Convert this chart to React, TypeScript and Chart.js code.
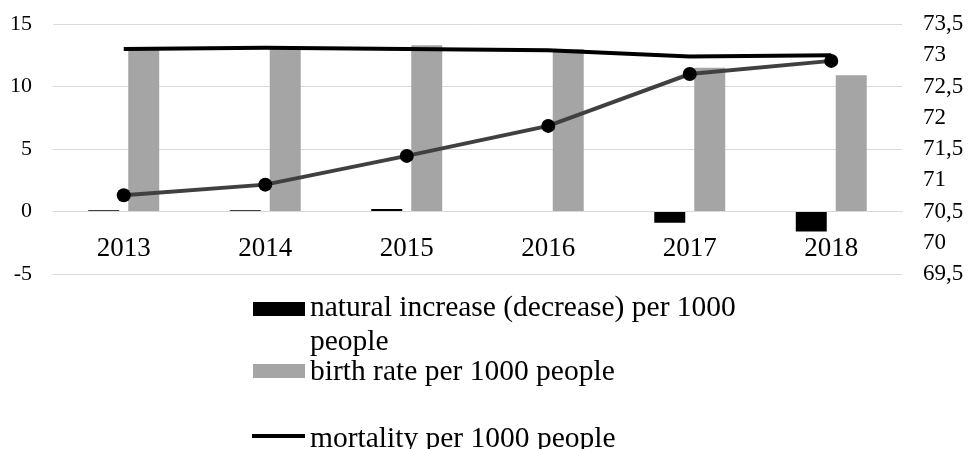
import React, { useEffect, useRef } from "react";
import { Chart, registerables } from "chart.js";

Chart.register(...registerables);

const years = ["2013", "2014", "2015", "2016", "2017", "2018"];
const naturalIncrease = [0.1, 0.1, 0.2, 0.0, -0.9, -1.6];
const birthRate = [13.1, 13.1, 13.3, 13.0, 11.5, 10.9];
const mortality = [13.0, 13.1, 13.0, 12.9, 12.4, 12.5];
const lifeExpectancy = [70.76, 70.93, 71.39, 71.87, 72.7, 72.91];

const seriesLabels = [
  "natural increase (decrease) per 1000 people",
  "birth rate per 1000 people",
  "mortality per 1000 people",
  "life expectancy at birth, years",
];

const FONT = "'Liberation Serif', 'Times New Roman', serif";

const zeroPad = (s: any) => {
  s.paddingLeft = 0;
  s.paddingRight = 0;
  s.paddingTop = 0;
  s.paddingBottom = 0;
};

export default function App() {
  const ref = useRef<HTMLCanvasElement | null>(null);

  useEffect(() => {
    if (!ref.current) return;
    const chart = new Chart(ref.current, {
      type: "bar",
      data: {
        labels: years,
        datasets: [
          {
            type: "bar",
            label: seriesLabels[0],
            data: naturalIncrease,
            backgroundColor: "#000000",
            yAxisID: "y",
            order: 3,
            categoryPercentage: 0.565,
            barPercentage: 0.775,
          },
          {
            type: "bar",
            label: seriesLabels[1],
            data: birthRate,
            backgroundColor: "#a5a5a5",
            yAxisID: "y",
            order: 3,
            categoryPercentage: 0.565,
            barPercentage: 0.775,
          },
          {
            type: "line",
            label: seriesLabels[2],
            data: mortality,
            borderColor: "#000000",
            borderWidth: 4,
            pointRadius: 0,
            tension: 0,
            yAxisID: "y",
            order: 2,
          },
          {
            type: "line",
            label: seriesLabels[3],
            data: lifeExpectancy,
            borderColor: "#404040",
            borderWidth: 4,
            pointRadius: 7,
            pointBackgroundColor: "#000000",
            pointBorderColor: "#000000",
            pointBorderWidth: 0,
            tension: 0,
            yAxisID: "y1",
            order: 1,
          },
        ] as any,
      },
      options: {
        responsive: false,
        animation: false,
        layout: { padding: { left: 10, right: 5, top: 24, bottom: 175 } },
        plugins: { legend: { display: false }, tooltip: { enabled: false } },
        scales: {
          x: {
            position: { y: 0 } as any,
            grid: { display: false },
            border: { display: true, color: "#d9d9d9", width: 1 },
            ticks: {
              color: "#000",
              font: { family: FONT, size: 27 },
              padding: 13,
            },
            afterFit: zeroPad,
          },
          y: {
            position: "left",
            min: -5,
            max: 15,
            grid: { color: "#d9d9d9", lineWidth: 1, drawTicks: false },
            border: { display: false },
            ticks: {
              stepSize: 5,
              autoSkip: false,
              color: "#000",
              font: { family: FONT, size: 22 },
              padding: 21,
            },
            afterFit: (s: any) => {
              zeroPad(s);
              s.width = 43;
            },
          },
          y1: {
            position: "right",
            min: 69.5,
            max: 73.5,
            grid: { display: false, drawTicks: false },
            border: { display: false },
            ticks: {
              stepSize: 0.5,
              autoSkip: false,
              color: "#000",
              font: { family: FONT, size: 23 },
              padding: 21,
              callback: (v: any) =>
                String(Math.round(Number(v) * 10) / 10).replace(".", ","),
            },
            afterFit: (s: any) => {
              zeroPad(s);
              s.width = 61;
            },
          },
        },
      } as any,
    });
    return () => chart.destroy();
  }, []);

  const textStyle: React.CSSProperties = {
    position: "absolute",
    left: 310,
    width: 470,
    fontFamily: FONT,
    fontSize: 29.5,
    lineHeight: "34px",
    color: "#000",
    whiteSpace: "normal",
  };

  return (
    <div
      style={{
        position: "fixed",
        left: 0,
        top: 0,
        width: 968,
        height: 449,
        background: "#fff",
        overflow: "hidden",
      }}
    >
      <canvas ref={ref} width={968} height={449} style={{ position: "absolute", left: 0, top: 0 }} />
      <div style={{ position: "absolute", left: 253, top: 302, width: 52, height: 14, background: "#000" }} />
      <div style={{ ...textStyle, top: 289 }}>{seriesLabels[0]}</div>
      <div style={{ position: "absolute", left: 253, top: 364, width: 52, height: 14, background: "#a5a5a5" }} />
      <div style={{ ...textStyle, top: 353 }}>{seriesLabels[1]}</div>
      <div style={{ position: "absolute", left: 252, top: 434, width: 53, height: 4, background: "#000" }} />
      <div style={{ ...textStyle, top: 420 }}>{seriesLabels[2]}</div>
    </div>
  );
}
